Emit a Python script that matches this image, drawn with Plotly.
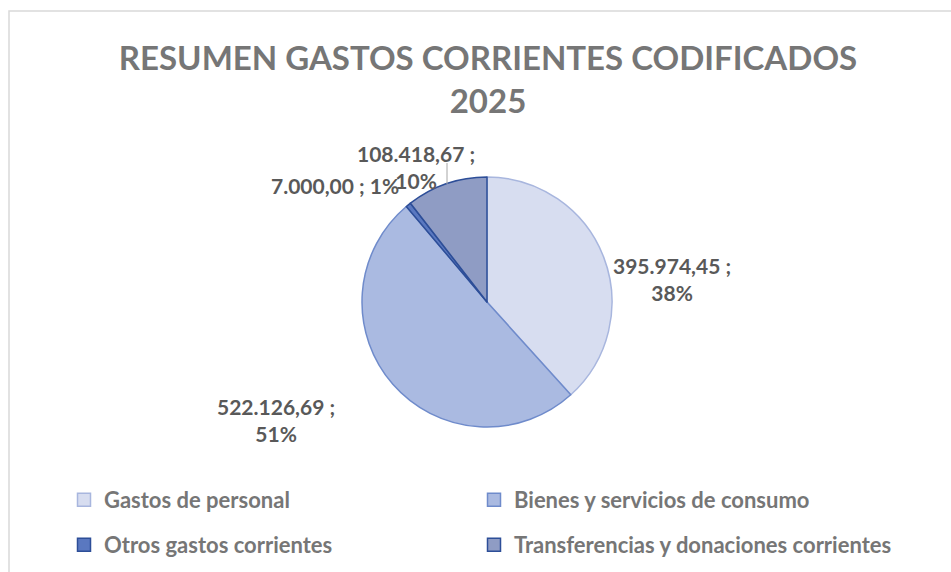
import plotly.graph_objects as go

# Datos del gráfico
categorias = ['Gastos de personal', 'Bienes y servicios de consumo',
              'Otros gastos corrientes', 'Transferencias y donaciones corrientes']
importes = [395974.45, 522126.69, 7000.00, 108418.67]

colores_relleno = ['#D7DDF0', '#AABAE1', '#5A78C0', '#8F9CC4']
colores_borde = ['#A8B6DE', '#6F8BCB', '#2D4E98', '#2D4E98']

# posición (px) del centro de cada etiqueta de datos, como en el original
pos_etiquetas = [(672, 279), (276, 420), (335, 185), (416, 167)]
saltos = ['<br>', '<br>', ' ', '<br>']

ANCHO, ALTO = 951, 572


def formato_es(v):
    # 1234567.891 -> 1.234.567,89
    return f'{v:,.2f}'.replace(',', '#').replace('.', ',').replace('#', '.')


total = sum(importes)

fig = go.Figure()

fig.add_trace(go.Pie(
    labels=categorias,
    values=importes,
    sort=False,
    direction='clockwise',
    rotation=0,
    marker=dict(colors=colores_relleno, line=dict(color=colores_borde, width=1.5)),
    textinfo='none',
    domain=dict(x=[362 / ANCHO, 612 / ANCHO], y=[145 / ALTO, 395 / ALTO]),
    hoverinfo='label+value+percent',
    showlegend=False,
))

# leyenda en dos filas (2 x 2), una entrada por categoría
for i, nombre in enumerate(categorias):
    fig.add_trace(go.Scatter(
        x=[None], y=[None], mode='markers', name=nombre,
        marker=dict(symbol='square', size=13, color=colores_relleno[i],
                    line=dict(color=colores_borde[i], width=1.5)),
        legend='legend' if i < 2 else 'legend2',
        legendwidth=365 if i % 2 == 0 else None,
        hoverinfo='skip',
    ))

# etiquetas de datos "valor ; porcentaje"
anotaciones = []
for v, (px, py), br in zip(importes, pos_etiquetas, saltos):
    anotaciones.append(dict(
        text=f'{formato_es(v)} ;{br}{round(v / total * 100)}%',
        x=px / ANCHO, y=1 - py / ALTO, xref='paper', yref='paper',
        xanchor='center', yanchor='middle', align='center', showarrow=False,
        font=dict(family='Lato', size=21, color='#595959', weight='bold'),
    ))

fuente_leyenda = dict(family='Lato', size=22, color='#767676', weight='bold')

fig.update_layout(
    width=ANCHO, height=ALTO,
    paper_bgcolor='white',
    plot_bgcolor='white',
    margin=dict(l=0, r=0, t=0, b=0),
    xaxis=dict(visible=False),
    yaxis=dict(visible=False),
    title=dict(
        text='RESUMEN GASTOS CORRIENTES CODIFICADOS<br>2025',
        x=488 / ANCHO, xanchor='center', y=0.878, yanchor='top',
        font=dict(family='Lato', size=33, color='#767676', weight='bold'),
    ),
    legend=dict(orientation='h', x=64 / ANCHO, xanchor='left', y=1 - 500 / ALTO, yanchor='middle',
                font=fuente_leyenda, bgcolor='rgba(0,0,0,0)'),
    legend2=dict(orientation='h', x=64 / ANCHO, xanchor='left', y=1 - 545 / ALTO, yanchor='middle',
                 font=fuente_leyenda, bgcolor='rgba(0,0,0,0)'),
    annotations=anotaciones,
    shapes=[
        dict(type='rect', xref='paper', yref='paper',
             x0=9 / ANCHO, x1=1.01, y0=-0.01, y1=1 - 11 / ALTO,
             line=dict(color='#D9D9D9', width=1.5)),
        # línea guía de la etiqueta del 10%
        dict(type='line', xref='paper', yref='paper',
             x0=447 / ANCHO, x1=447 / ANCHO, y0=1 - 163 / ALTO, y1=1 - 184 / ALTO,
             line=dict(color='#A6A6A6', width=1)),
    ],
)

fig.write_html('out.html', config={'displayModeBar': False},
               post_script="document.body.style.margin='0';")
